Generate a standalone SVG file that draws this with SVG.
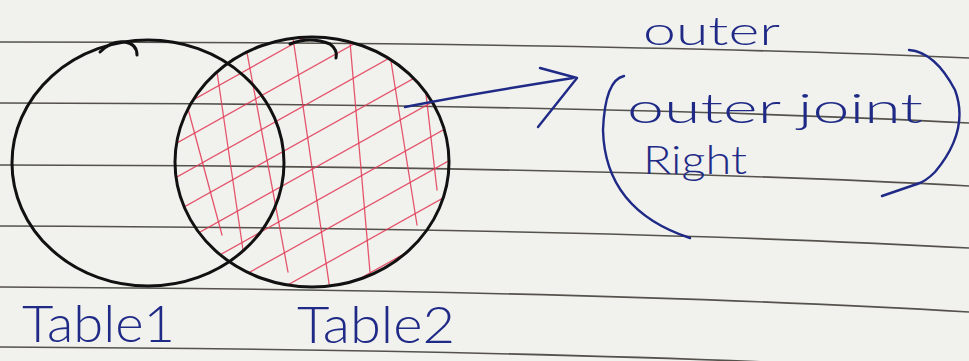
<svg xmlns="http://www.w3.org/2000/svg" width="969" height="361" viewBox="0 0 969 361">
  <defs>
    <style>
      .rule { fill: none; stroke: #55524c; stroke-width: 1.6; }
      .ink { fill: none; stroke: #111; stroke-width: 3; stroke-linecap: round; stroke-linejoin: round; }
      .pen { fill: none; stroke: #1f2a86; stroke-width: 2.4; stroke-linecap: round; stroke-linejoin: round; }
      .hatch { fill: none; stroke: #e23a55; stroke-width: 1.3; stroke-linecap: round; opacity: 0.85; }
      .hand { font-family: "Lato", "Liberation Sans", "DejaVu Sans", sans-serif; font-weight: 300; fill: #1f2a86; }
    </style>
    <clipPath id="rightClip">
      <ellipse cx="312" cy="162" rx="136" ry="124"/>
    </clipPath>
  </defs>

  <rect width="969" height="361" fill="#f1f1ee"/>

  <g id="paper-rules">
    <path class="rule" d="M0 42 Q 600 42 969 58"/>
    <path class="rule" d="M0 103 Q 600 104 969 123"/>
    <path class="rule" d="M0 165 Q 600 166 969 186"/>
    <path class="rule" d="M0 226 Q 600 228 969 248"/>
    <path class="rule" d="M0 287 Q 600 290 969 312"/>
    <path class="rule" d="M0 347 Q 600 350 969 372"/>
  </g>

  <g id="table2-hatch" clip-path="url(#rightClip)">
    <path class="hatch" d="M187 105 L222 235"/>
    <path class="hatch" d="M215 58 L243 250"/>
    <path class="hatch" d="M245 42 L288 272"/>
    <path class="hatch" d="M293 38 L330 290"/>
    <path class="hatch" d="M350 42 L370 272"/>
    <path class="hatch" d="M390 55 L417 225"/>
    <path class="hatch" d="M423 68 L437 190"/>
    <path class="hatch" d="M150 124 L470 -55"/>
    <path class="hatch" d="M150 158 L470 -21"/>
    <path class="hatch" d="M150 192 L470 13"/>
    <path class="hatch" d="M150 226 L470 47"/>
    <path class="hatch" d="M150 260 L470 81"/>
    <path class="hatch" d="M150 294 L470 115"/>
    <path class="hatch" d="M150 328 L470 149"/>
    <path class="hatch" d="M150 362 L470 183"/>
    <path class="hatch" d="M150 396 L470 217"/>
    <path class="hatch" d="M150 430 L470 251"/>
  </g>

  <g id="table1">
    <ellipse class="ink" cx="148" cy="163" rx="136" ry="123"/>
    <path class="ink" d="M100 52 Q 112 40 125 42 Q 137 44 137 55"/>
    <text class="hand" x="22" y="342" font-size="52" textLength="153" lengthAdjust="spacingAndGlyphs">Table1</text>
  </g>

  <g id="table2">
    <ellipse class="ink" cx="312" cy="162" rx="137" ry="125"/>
    <path class="ink" d="M290 44 Q 310 36 330 44 Q 338 50 336 58"/>
    <text class="hand" x="297" y="343" font-size="52" textLength="158" lengthAdjust="spacingAndGlyphs">Table2</text>
  </g>

  <g id="connectors">
    <path class="pen" d="M405 107 C 450 98, 510 88, 573 78"/>
    <path class="pen" d="M540 68 L577 78 L538 127"/>
  </g>

  <g id="label">
    <text class="hand" x="643" y="45" font-size="40" textLength="137" lengthAdjust="spacingAndGlyphs">outer</text>
    <path class="pen" d="M624 76 Q 605 80 603 130 Q 605 210 690 238"/>
    <text class="hand" x="627" y="123" font-size="42" textLength="296" lengthAdjust="spacingAndGlyphs">outer joint</text>
    <text class="hand" x="643" y="174" font-size="40" textLength="104" lengthAdjust="spacingAndGlyphs">Right</text>
    <path class="pen" d="M909 50 Q 935 52 955 90 Q 970 130 935 172 Q 925 182 917 184"/>
    <path class="pen" d="M917 184 L 882 196" stroke-width="1.4"/>
  </g>
</svg>
